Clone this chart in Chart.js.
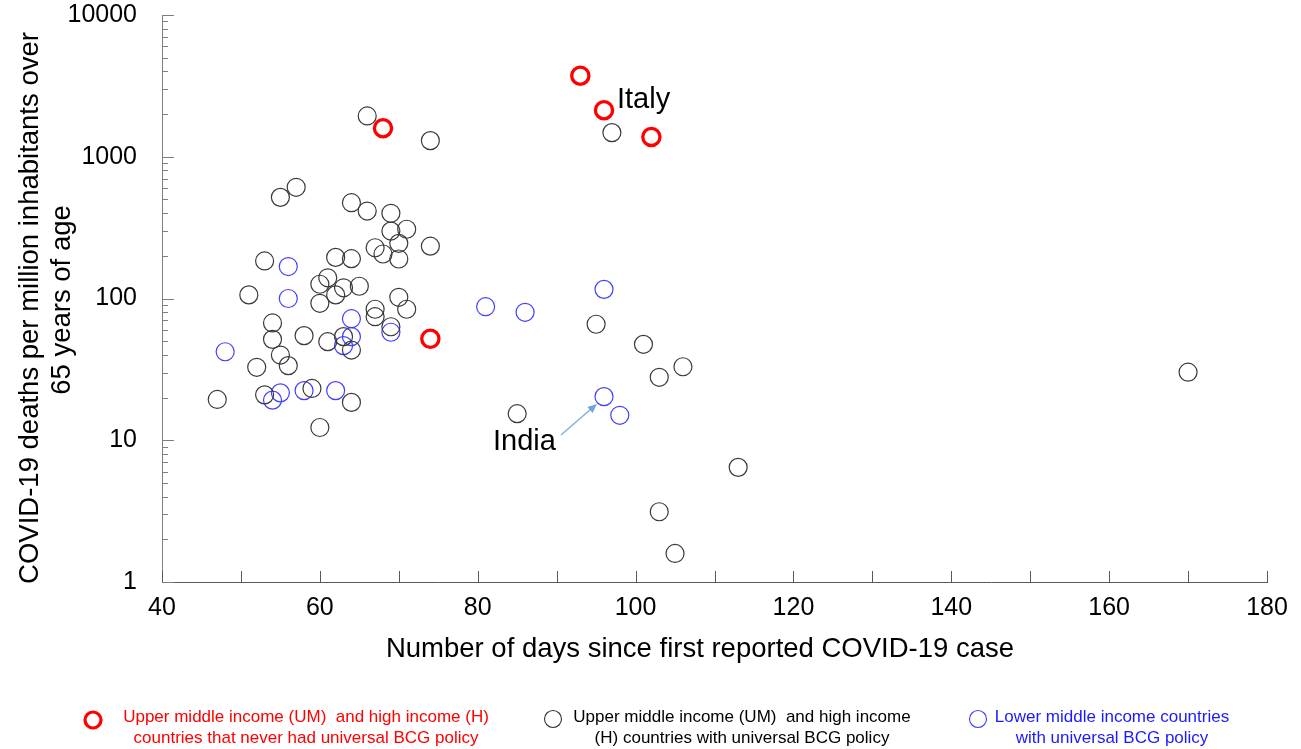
<!DOCTYPE html>
<html><head><meta charset="utf-8">
<script src="https://cdn.jsdelivr.net/npm/chart.js@4.4.1/dist/chart.umd.min.js"></script>
<style>html,body{margin:0;padding:0;background:#fff;}canvas{display:block;}</style>
</head><body>
<canvas id="c" width="1301" height="749"></canvas>
<script>
// Upper middle & high income countries that never had universal BCG policy
const redX = [93, 96, 102, 68, 74];
const redY = [3730, 2130, 1380, 1590, 52];
// Upper middle & high income countries with universal BCG policy
const blackX = [66, 74, 97, 57, 55, 64, 66, 69, 69, 71, 67, 70, 68, 70, 74, 53, 62, 64, 61, 60,
                63, 65, 62, 51, 60, 70, 71, 67, 67, 54, 69, 54, 58, 61, 63, 64, 55, 52, 56, 59,
                53, 47, 64, 60, 95, 101, 106, 103, 85, 113, 103, 105, 170];
const blackY = [1940, 1300, 1480, 609, 517, 474, 414, 399, 299, 308, 228, 245, 206, 190, 234, 184, 195, 191, 140, 126,
                119, 122, 106, 106, 92.5, 102, 84, 84, 74.4, 67.2, 63.2, 51.5, 54.7, 49.6, 53.8, 43.3, 39.9, 32.7, 33.6, 23.2,
                20.9, 19.4, 18.5, 12.3, 65.8, 47.5, 33.0, 27.8, 15.4, 6.44, 3.13, 1.59, 30.2];
// Lower middle income countries with universal BCG policy
const blueX = [56, 56, 64, 69, 64, 63, 48, 58, 62, 55, 54, 81, 86, 96, 96, 98];
const blueY = [168, 100, 72, 57.8, 53.8, 46.5, 42.1, 22.4, 22.4, 21.6, 19.2, 87.5, 79.9, 116, 20.3, 15.0];

const xTickValues = [40, 50, 60, 70, 80, 90, 100, 110, 120, 130, 140, 150, 160, 170, 180];
const xTickLabels = [40, 60, 80, 100, 120, 140, 160, 180];
const yDecades = [1, 10, 100, 1000, 10000];
const yMultipliers = [1, 2, 3, 4, 5, 6, 7, 8, 9];
const yTickLabels = ['1', '10', '100', '1000', '10000'];

const xTitle = 'Number of days since first reported COVID-19 case';
const yTitle = ['COVID-19 deaths per million inhabitants over', '65 years of age'];
const legendItems = [
  {color: '#ff0000', lines: ['Upper middle income (UM)  and high income (H)', 'countries that never had universal BCG policy']},
  {color: '#000000', lines: ['Upper middle income (UM)  and high income', '(H) countries with universal BCG policy']},
  {color: '#1a1aff', lines: ['Lower middle income countries', 'with universal BCG policy']}
];
const annotations = [{text: 'Italy'}, {text: 'India'}];

const yTickValues = [];
yDecades.forEach((d, i) => {
  if (i === yDecades.length - 1) { yTickValues.push(d); return; }
  yMultipliers.forEach(m => yTickValues.push(d * m));
});

const FONT = "'Liberation Sans', Arial, sans-serif";

function toPts(xs, ys) { return xs.map((x, i) => ({x, y: ys[i]})); }

const decor = {
  id: 'decor',
  afterDraw(chart) {
    const {ctx, chartArea: ca, scales: {x, y}} = chart;
    ctx.save();
    // y ticks (inward)
    ctx.strokeStyle = '#7f7f7f';
    ctx.lineWidth = 1;
    y.ticks.forEach(t => {
      const py = Math.round(y.getPixelForValue(t.value)) + 0.5;
      const lg = Math.log10(t.value);
      const major = Math.abs(lg - Math.round(lg)) < 1e-9;
      const len = major ? 12 : 6;
      ctx.beginPath(); ctx.moveTo(ca.left, py); ctx.lineTo(ca.left + len, py); ctx.stroke();
    });
    // x ticks (inward)
    ctx.strokeStyle = '#595959';
    x.ticks.forEach(t => {
      const px = Math.round(x.getPixelForValue(t.value)) + 0.5;
      ctx.beginPath(); ctx.moveTo(px, ca.bottom); ctx.lineTo(px, ca.bottom - 11); ctx.stroke();
    });
    // axis titles
    ctx.fillStyle = '#000';
    ctx.textAlign = 'center';
    ctx.textBaseline = 'middle';
    ctx.font = '27.5px ' + FONT;
    ctx.fillText(xTitle, 700, 649);
    ctx.save();
    ctx.translate(30, 308);
    ctx.rotate(-Math.PI / 2);
    ctx.fillText(yTitle[0], 0, 0);
    ctx.fillText(yTitle[1], 8, 32);
    ctx.restore();
    // annotations
    ctx.textAlign = 'left';
    ctx.textBaseline = 'alphabetic';
    ctx.font = '29px ' + FONT;
    ctx.fillText(annotations[0].text, 617, 108);
    ctx.fillText(annotations[1].text, 493, 450);
    // India arrow
    const ax0 = 561, ay0 = 435, ax1 = 597, ay1 = 404;
    ctx.strokeStyle = '#7fb1dd';
    ctx.fillStyle = '#6fa5d8';
    ctx.lineWidth = 1.5;
    ctx.beginPath(); ctx.moveTo(ax0, ay0); ctx.lineTo(ax1 - 6, ay1 + 5); ctx.stroke();
    const ang = Math.atan2(ay1 - ay0, ax1 - ax0);
    ctx.beginPath();
    ctx.moveTo(ax1, ay1);
    ctx.lineTo(ax1 - 10 * Math.cos(ang - 0.4), ay1 - 10 * Math.sin(ang - 0.4));
    ctx.lineTo(ax1 - 10 * Math.cos(ang + 0.4), ay1 - 10 * Math.sin(ang + 0.4));
    ctx.closePath(); ctx.fill();
    // legend
    const lx = [93, 553, 978], ly = [720, 719, 719], tx = [306, 742, 1112];
    legendItems.forEach((it, i) => {
      ctx.beginPath();
      ctx.arc(lx[i], ly[i], i === 0 ? 8 : 8.5, 0, Math.PI * 2);
      ctx.strokeStyle = i === 0 ? '#ff0000' : (i === 1 ? '#333333' : '#3c3cff');
      ctx.lineWidth = i === 0 ? 3.2 : 1.1;
      ctx.stroke();
      ctx.fillStyle = it.color;
      ctx.font = '17px ' + FONT;
      ctx.textAlign = 'center';
      ctx.textBaseline = 'middle';
      ctx.fillText(it.lines[0], tx[i], 717);
      ctx.fillText(it.lines[1], tx[i], 738);
    });
    ctx.restore();
  }
};

new Chart(document.getElementById('c'), {
  type: 'scatter',
  data: {
    datasets: [
      {label: 'never BCG', data: toPts(redX, redY), borderColor: '#ff0000', backgroundColor: 'rgba(0,0,0,0)',
       borderWidth: 3.3, pointRadius: 8.6, pointStyle: 'circle'},
      {label: 'UM/H BCG', data: toPts(blackX, blackY), borderColor: '#3a3a3a', backgroundColor: 'rgba(0,0,0,0)',
       borderWidth: 1.2, pointRadius: 9, pointStyle: 'circle'},
      {label: 'LM BCG', data: toPts(blueX, blueY), borderColor: '#4040ff', backgroundColor: 'rgba(0,0,0,0)',
       borderWidth: 1.2, pointRadius: 9, pointStyle: 'circle'}
    ]
  },
  options: {
    responsive: false,
    animation: false,
    events: [],
    devicePixelRatio: 1,
    layout: {padding: {left: 0, right: 34, top: 15, bottom: 0}},
    plugins: {legend: {display: false}, tooltip: {enabled: false}},
    scales: {
      x: {
        type: 'linear', min: 40, max: 180,
        grid: {display: false, drawTicks: false},
        border: {display: true, color: '#595959', width: 1},
        afterBuildTicks: s => { s.ticks = xTickValues.map(v => ({value: v})); },
        afterFit: s => { s.height = 167; s.paddingLeft = 0; s.paddingRight = 0; s.paddingTop = 0; s.paddingBottom = 0; },
        ticks: {
          autoSkip: false, maxRotation: 0, padding: 11, color: '#000',
          font: {family: FONT, size: 25},
          callback: v => xTickLabels.includes(v) ? String(v) : ''
        }
      },
      y: {
        type: 'logarithmic', min: 1, max: 10000,
        grid: {display: false, drawTicks: false},
        border: {display: true, color: '#7f7f7f', width: 1},
        afterBuildTicks: s => { s.ticks = yTickValues.map(v => ({value: v})); },
        afterFit: s => { s.width = 162; s.paddingLeft = 0; s.paddingRight = 0; s.paddingTop = 0; s.paddingBottom = 0; },
        ticks: {
          autoSkip: false, padding: 25, color: '#000',
          font: {family: FONT, size: 25},
          callback: v => { const i = yDecades.indexOf(v); return i >= 0 ? yTickLabels[i] : ''; }
        }
      }
    }
  },
  plugins: [decor]
});
</script>
</body></html>
